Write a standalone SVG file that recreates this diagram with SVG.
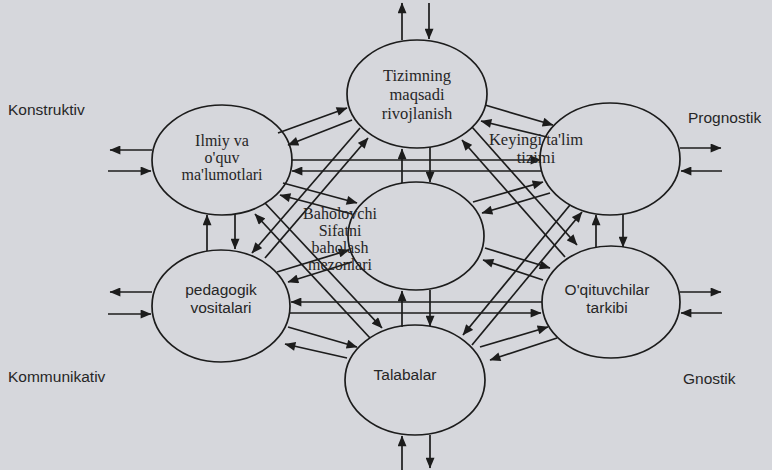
<svg xmlns="http://www.w3.org/2000/svg" width="772" height="470" viewBox="0 0 772 470">
<defs>
<marker id="ah" viewBox="0 0 12 10" refX="11.5" refY="5" markerWidth="12" markerHeight="9" markerUnits="userSpaceOnUse" orient="auto">
<path d="M0,0 L12,5 L0,10 Z" fill="#1c1c1c"/>
</marker>
<style>
.bg{fill:#d6d7dc}
.node ellipse{fill:none;stroke:#1c1c1c;stroke-width:1.7}
.serif{font-family:"Liberation Serif","Times New Roman",serif;fill:#262626;text-anchor:middle}
.sans{font-family:"Liberation Sans",Arial,sans-serif;fill:#262626}
.mid{text-anchor:middle}
#connectors line{stroke:#1c1c1c;stroke-width:1.7;marker-end:url(#ah)}
</style>
</defs>
<rect class="bg" x="0" y="0" width="772" height="470"/>

<g id="connectors">
<line x1="152" y1="150" x2="110" y2="150"/>
<line x1="108" y1="171" x2="151" y2="171"/>
<line x1="152" y1="292" x2="110" y2="292"/>
<line x1="108" y1="314" x2="151" y2="314"/>
<line x1="680" y1="148" x2="721" y2="148"/>
<line x1="722" y1="171" x2="681" y2="171"/>
<line x1="680" y1="292" x2="721" y2="292"/>
<line x1="722" y1="313" x2="681" y2="313"/>
<line x1="402" y1="40" x2="402" y2="3"/>
<line x1="429" y1="3" x2="429" y2="39"/>
<line x1="402" y1="470" x2="402" y2="436"/>
<line x1="430" y1="435" x2="430" y2="468"/>
<line x1="278" y1="133" x2="347" y2="108"/>
<line x1="352" y1="120" x2="288" y2="145"/>
<line x1="485" y1="105" x2="553" y2="125"/>
<line x1="547" y1="137" x2="481" y2="121"/>
<line x1="402" y1="183" x2="402" y2="149"/>
<line x1="430" y1="147" x2="430" y2="182"/>
<line x1="291" y1="160" x2="541" y2="160"/>
<line x1="541" y1="171" x2="292" y2="171"/>
<line x1="283" y1="183" x2="357" y2="203"/>
<line x1="352" y1="214" x2="280" y2="195"/>
<line x1="207" y1="251" x2="207" y2="215"/>
<line x1="235" y1="214" x2="235" y2="249"/>
<line x1="473" y1="202" x2="543" y2="182"/>
<line x1="550" y1="193" x2="482" y2="213"/>
<line x1="596" y1="247" x2="596" y2="215"/>
<line x1="623" y1="214" x2="623" y2="247"/>
<line x1="277" y1="272" x2="349" y2="250"/>
<line x1="352" y1="262" x2="288" y2="282"/>
<line x1="542" y1="302" x2="291" y2="302"/>
<line x1="290" y1="313" x2="541" y2="313"/>
<line x1="485" y1="248" x2="550" y2="268"/>
<line x1="543" y1="280" x2="483" y2="260"/>
<line x1="288" y1="327" x2="357" y2="347"/>
<line x1="347" y1="358" x2="285" y2="344"/>
<line x1="480" y1="347" x2="548" y2="327"/>
<line x1="557" y1="338" x2="490" y2="360"/>
<line x1="402" y1="327" x2="402" y2="291"/>
<line x1="430" y1="290" x2="430" y2="326"/>
<line x1="360" y1="128" x2="252" y2="253"/>
<line x1="265" y1="258" x2="368" y2="138"/>
<line x1="265" y1="203" x2="382" y2="328"/>
<line x1="370" y1="338" x2="255" y2="214"/>
<line x1="472" y1="127" x2="577" y2="245"/>
<line x1="565" y1="257" x2="462" y2="140"/>
<line x1="570" y1="205" x2="463" y2="335"/>
<line x1="472" y1="345" x2="582" y2="212"/>
</g>

<g id="node-tizim" class="node">
<ellipse cx="417" cy="94" rx="70" ry="54"/>
<text class="serif" font-size="16.5" x="417" y="81">Tizimning</text>
<text class="serif" font-size="16.5" x="417" y="100">maqsadi</text>
<text class="serif" font-size="16.5" x="417" y="119">rivojlanish</text>
</g>

<g id="node-ilmiy" class="node">
<ellipse cx="222" cy="160" rx="70" ry="55"/>
<text class="serif" font-size="16" x="222" y="146">Ilmiy va</text>
<text class="serif" font-size="16" x="222" y="163">o'quv</text>
<text class="serif" font-size="16" x="222" y="180">ma'lumotlari</text>
</g>

<g id="node-keyingi" class="node">
<ellipse cx="610" cy="159" rx="70" ry="56"/>
<text class="serif" font-size="16.5" x="536" y="145">Keyingi ta'lim</text>
<text class="serif" font-size="16.5" x="536" y="163">tizimi</text>
</g>

<g id="node-baholovchi" class="node">
<ellipse cx="416" cy="236" rx="68" ry="54"/>
<text class="serif" font-size="16" x="340" y="219">Baholovchi</text>
<text class="serif" font-size="16" x="340" y="236">Sifatni</text>
<text class="serif" font-size="16" x="340" y="253">baholash</text>
<text class="serif" font-size="16" x="340" y="270">mezonlari</text>
</g>

<g id="node-pedagogik" class="node">
<ellipse cx="221" cy="306" rx="69" ry="56"/>
<text class="sans mid" font-size="15.5" x="221" y="295">pedagogik</text>
<text class="sans mid" font-size="15.5" x="221" y="313">vositalari</text>
</g>

<g id="node-oqituvchilar" class="node">
<ellipse cx="611" cy="302" rx="69" ry="56"/>
<text class="sans mid" font-size="15.5" x="607" y="295">O'qituvchilar</text>
<text class="sans mid" font-size="15.5" x="607" y="313">tarkibi</text>
</g>

<g id="node-talabalar" class="node">
<ellipse cx="415" cy="380" rx="70" ry="55"/>
<text class="sans mid" font-size="15.5" x="405" y="380">Talabalar</text>
</g>

<g id="labels">
<text class="sans" font-size="15.5" x="8" y="115">Konstruktiv</text>
<text class="sans" font-size="15.5" x="688" y="123">Prognostik</text>
<text class="sans" font-size="15.5" x="8" y="382">Kommunikativ</text>
<text class="sans" font-size="15.5" x="683" y="384">Gnostik</text>
</g>
</svg>
